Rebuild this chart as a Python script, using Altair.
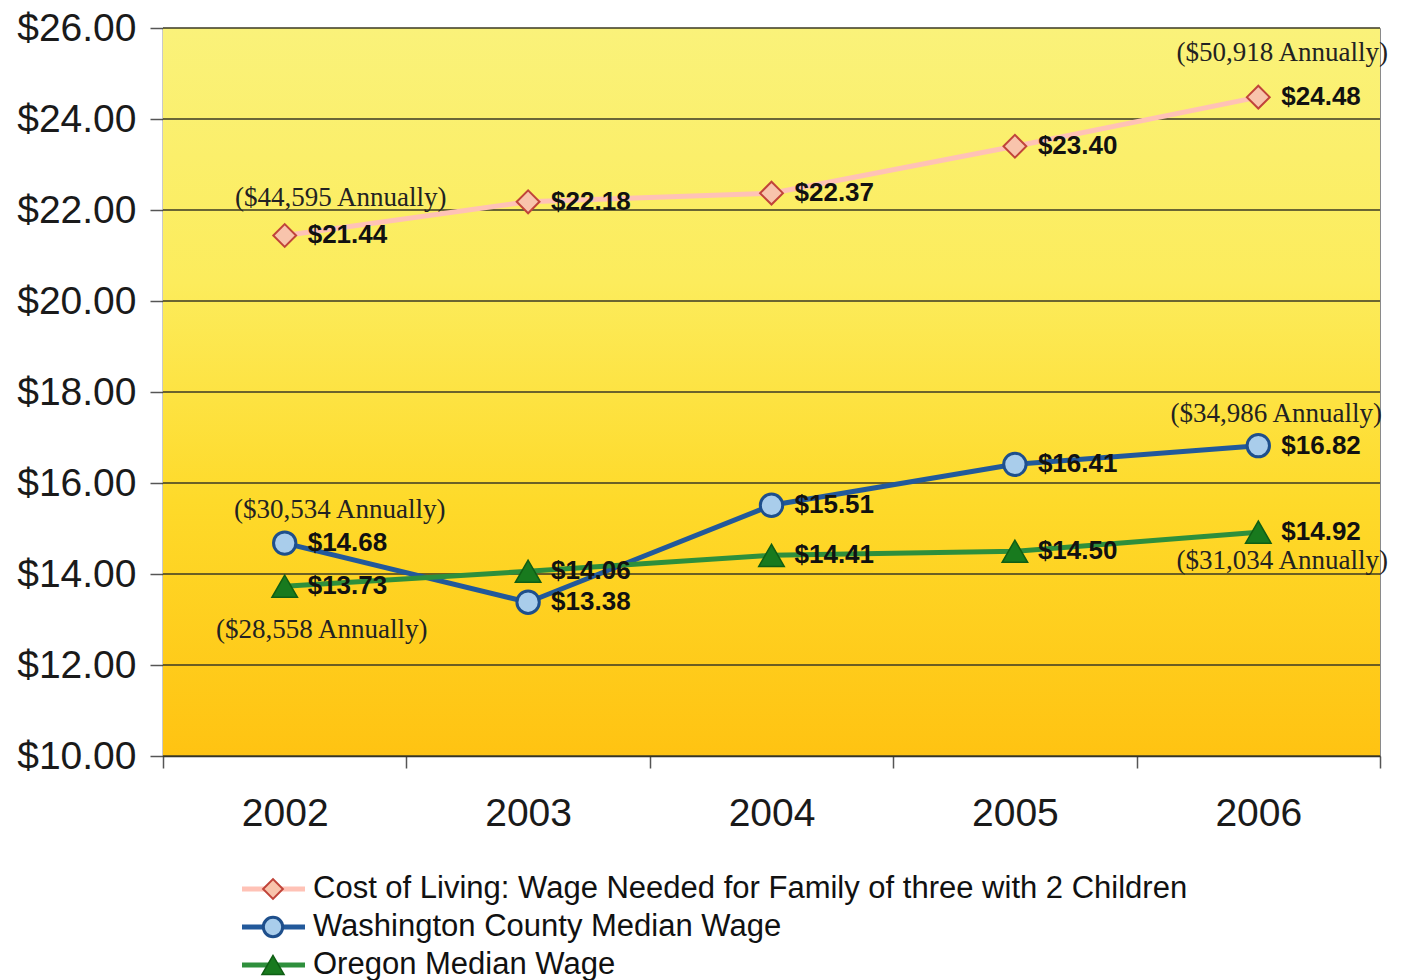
import altair as alt
import pandas as pd

# ---------------- data ----------------
years = [2002, 2003, 2004, 2005, 2006]
series_names = [
    "Cost of Living: Wage Needed for Family of three with 2 Children",
    "Washington County Median Wage",
    "Oregon Median Wage",
]
cost_of_living = [21.44, 22.18, 22.37, 23.40, 24.48]
washington = [14.68, 13.38, 15.51, 16.41, 16.82]
oregon = [13.73, 14.06, 14.41, 14.50, 14.92]

y_ticks = [10, 12, 14, 16, 18, 20, 22, 24, 26]

ann_years = [2002, 2006, 2002, 2006, 2002, 2006]
ann_values = [21.44, 24.48, 14.68, 16.82, 13.73, 14.92]
ann_texts = [
    "($44,595 Annually)",
    "($50,918 Annually)",
    "($30,534 Annually)",
    "($34,986 Annually)",
    "($28,558 Annually)",
    "($31,034 Annually)",
]
# styling offsets for the annotations (dx, dy in pixels)
ann_offsets = [(56, -37), (24, -44), (55, -33), (18, -32), (37, 44), (24, 29)]

W, H = 1217, 728
SANS = "Liberation Sans"
SERIF = "Liberation Serif"

styles = [
    dict(line="#FFC2B6", shape="diamond", fill="#F8C4AC", stroke="#C0443A", sw=2, size=520),
    dict(line="#22599B", shape="circle", fill="#A9CDEB", stroke="#1E4F8C", sw=3, size=500),
    dict(line="#2E8F3C", shape="triangle-up", fill="#187A1E", stroke="#0F5E14", sw=1.5, size=650),
]
values_list = [cost_of_living, washington, oregon]

x_enc = alt.X(
    "year:O",
    scale=alt.Scale(type="band", paddingInner=0, paddingOuter=0, domain=years),
    bandPosition=0.5,
    axis=alt.Axis(
        title=None,
        labelAngle=0,
        labelFont=SANS,
        labelFontSize=39,
        labelColor="#1a1a1a",
        labelPadding=26,
        tickBand="extent",
        tickSize=12,
        tickColor="#555555",
        tickWidth=1.5,
        domainColor="#2a2a2a",
        domainWidth=1.5,
        grid=False,
    ),
)
y_scale = alt.Scale(domain=[10, 26], nice=False, zero=False)
y_axis = alt.Axis(
    title=None,
    values=y_ticks,
    format="$.2f",
    labelFont=SANS,
    labelFontSize=39,
    labelColor="#1a1a1a",
    labelPadding=14,
    tickSize=13,
    tickColor="#555555",
    tickWidth=1.5,
    domainColor="#2a2a2a",
    domainWidth=1.5,
    grid=False,
)

layers = []

# background gradient
bg = alt.Chart(pd.DataFrame({"a": [0]})).mark_rect(
    fill=alt.Gradient(
        gradient="linear",
        x1=0, x2=0, y1=0, y2=1,
        stops=[
            alt.GradientStop(color="#FAF27A", offset=0),
            alt.GradientStop(color="#FCEC5C", offset=0.35),
            alt.GradientStop(color="#FEDA2A", offset=0.65),
            alt.GradientStop(color="#FFC312", offset=1),
        ],
    )
).encode(x=alt.value(0), x2=alt.value(W), y=alt.value(0), y2=alt.value(H))
layers.append(bg)

# gridlines
grid = alt.Chart(pd.DataFrame({"v": y_ticks})).mark_rule(
    color="#3A3824", strokeWidth=1.5
).encode(y=alt.Y("v:Q", scale=y_scale, axis=y_axis))
layers.append(grid)

# series
for name, vals, st in zip(series_names, values_list, styles):
    df = pd.DataFrame({"year": years, "value": vals, "series": name})
    df["label"] = ["$" + format(v, ".2f") for v in vals]
    base = alt.Chart(df).encode(x=x_enc, y=alt.Y("value:Q", scale=y_scale, axis=y_axis))
    layers.append(base.mark_line(color=st["line"], strokeWidth=5))
    layers.append(
        base.mark_point(
            shape=st["shape"], filled=True, fill=st["fill"], stroke=st["stroke"],
            strokeWidth=st["sw"], size=st["size"], opacity=1,
        )
    )
    layers.append(
        base.mark_text(
            align="left", baseline="middle", dx=23, font=SANS, fontSize=26,
            fontWeight="bold", color="#111111",
        ).encode(text="label:N")
    )

# annotations
for yr, val, txt, (dx, dy) in zip(ann_years, ann_values, ann_texts, ann_offsets):
    adf = pd.DataFrame({"year": [yr], "value": [val], "txt": [txt]})
    layers.append(
        alt.Chart(adf).mark_text(
            align="center", baseline="middle", dx=dx, dy=dy, font=SERIF,
            fontSize=27, color="#222222",
        ).encode(x=x_enc, y=alt.Y("value:Q", scale=y_scale, axis=y_axis), text="txt:N")
    )

# custom legend below the plot
leg_top = 861
leg_step = 38
for i, (name, st) in enumerate(zip(series_names, styles)):
    ldf = pd.DataFrame({"series": [name]})
    ypx = leg_top + i * leg_step
    lc = alt.Chart(ldf)
    layers.append(
        lc.mark_rule(color=st["line"], strokeWidth=5).encode(
            x=alt.value(79), x2=alt.value(142), y=alt.value(ypx)
        )
    )
    layers.append(
        lc.mark_point(
            shape=st["shape"], filled=True, fill=st["fill"], stroke=st["stroke"],
            strokeWidth=st["sw"], size=st["size"] * 0.75, opacity=1,
        ).encode(x=alt.value(110), y=alt.value(ypx))
    )
    layers.append(
        lc.mark_text(
            align="left", baseline="middle", font=SANS, fontSize=31, color="#111111"
        ).encode(x=alt.value(150), y=alt.value(ypx), text="series:N")
    )

chart = (
    alt.layer(*layers)
    .properties(
        width=W,
        height=H,
        padding={"left": 16, "top": 9, "right": 0, "bottom": 0},
        background="white",
    )
    .configure_view(stroke="#8a8a8a", strokeWidth=1)
)

chart.save("out.html", embed_options={"renderer": "svg", "actions": False})
